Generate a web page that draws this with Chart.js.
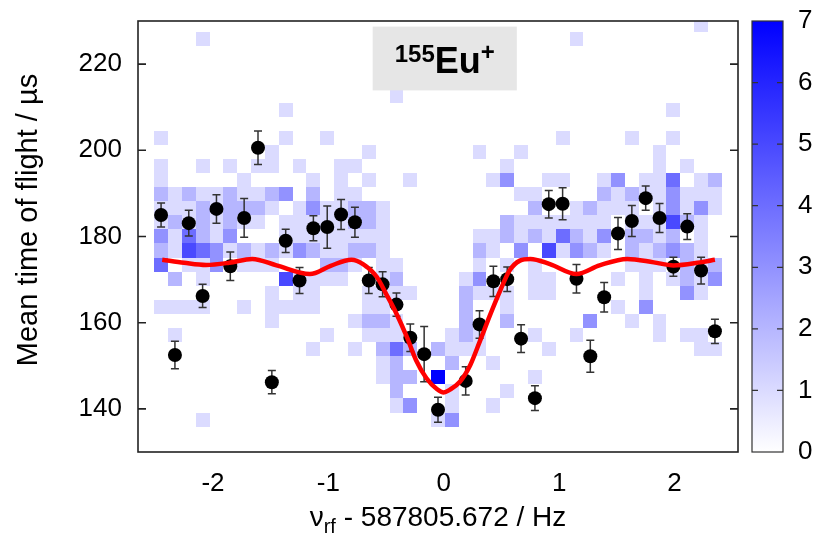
<!DOCTYPE html>
<html>
<head>
<meta charset="utf-8">
<script src="https://cdn.jsdelivr.net/npm/chart.js@4.4.0/dist/chart.umd.min.js"></script>
<style>
  html, body { margin: 0; padding: 0; background: #fff; }
  #wrap { width: 825px; height: 536px; }
</style>
</head>
<body>
<div id="wrap"><canvas id="chartTof"></canvas></div>
<script>
// scan steps (Hz, relative to the fitted centre)
const freq = [-2.45, -2.33, -2.21, -2.09, -1.97, -1.85, -1.73, -1.61, -1.49, -1.37,
              -1.25, -1.13, -1.01, -0.89, -0.77, -0.65, -0.53, -0.41, -0.29, -0.17,
              -0.05, 0.07, 0.19, 0.31, 0.43, 0.55, 0.67, 0.79, 0.91, 1.03,
              1.15, 1.27, 1.39, 1.51, 1.63, 1.75, 1.87, 1.99, 2.11, 2.23, 2.35];

// mean TOF per step (µs) and its error
const tofMean = [185.0, 152.5, 183.1, 166.2, 186.4, 173.1, 184.3, 200.6, 146.2, 179.0,
                 169.8, 181.9, 182.2, 185.1, 183.3, 169.8, 168.9, 164.2, 156.5, 152.7,
                 139.8, null, 146.5, 159.6, 169.6, 170.1, 156.3, 142.5, 187.5, 187.6,
                 170.2, 152.2, 165.9, 180.7, 183.6, 188.9, 184.3, 173.0, 182.3, 172.1, 158.0];
const tofErr = [2.8, 3.2, 3.0, 2.7, 3.3, 3.3, 4.5, 3.9, 2.7, 2.7,
                3.0, 2.9, 4.9, 3.5, 3.5, 3.0, 2.9, 2.7, 3.2, 6.4,
                2.9, null, 3.3, 3.2, 3.5, 2.85, 3.2, 2.85, 3.2, 3.7,
                3.3, 3.7, 3.4, 3.7, 3.6, 2.8, 3.35, 2.2, 3.0, 3.1, 2.8];

// fitted line shape
const fitFreq = [-2.44, -2.25, -2.06, -1.86, -1.66, -1.45, -1.16, -0.98, -0.80, -0.70,
                 -0.58, -0.50, -0.41, -0.32, -0.24, -0.15, -0.06, 0.0, 0.05, 0.14,
                 0.23, 0.31, 0.40, 0.49, 0.57, 0.66, 0.75, 0.92, 1.15, 1.35,
                 1.59, 1.82, 1.99, 2.22, 2.35];
const fitTof = [174.6, 173.9, 173.4, 173.9, 174.8, 173.3, 171.3, 173.2, 174.6, 173.6,
                170.6, 166.7, 162.1, 156.7, 151.3, 147.1, 144.6, 143.8, 144.4, 146.3,
                150.2, 155.5, 161.7, 167.5, 172.1, 174.4, 174.8, 173.6, 171.3, 173.3,
                174.8, 174.0, 173.3, 174.0, 174.6];

// TOF bin edges of the count histogram (bottom to top)
const tofEdges = [135.88, 139.15, 142.42, 145.69, 148.96, 152.23, 155.50, 158.77, 162.04, 165.31,
                  168.58, 171.85, 175.12, 178.39, 181.66, 184.93, 188.20, 191.47, 194.74, 198.01,
                  201.28, 204.55, 207.82, 211.09, 214.36, 217.63, 220.90, 224.17, 227.44, 230.71];

// ion counts per (TOF bin, scan step), top row first; one digit per step
const counts = [
  '0000000000 0000000000 0000000000 0000000001 0',
  '0001000000 0000000000 0000000000 1000000000 0',
  '0000000000 0000000000 0000000000 0000000000 0',
  '0000000000 0000000000 0000000000 0000000000 0',
  '0000000000 0000000000 0000000000 0000000000 0',
  '0000000000 0000000100 0000000000 0000000000 0',
  '0000000001 0000000000 0000000000 0000000100 0',
  '0000000000 0000000000 0000000000 0000000000 0',
  '1000000001 0010000000 0000000001 0000100100 0',
  '0000000010 0000010000 0001001000 0000001000 0',
  '1001010110 1001100000 0000010000 0000001010 0',
  '1000001000 0101010010 0000130011 0013011401 2',
  '2121121123 0201100000 0000001100 0021211311 1',
  '1112122210 1311221000 0000000200 1211101313 1',
  '1212121101 1111221000 0000021111 1110111521 0',
  '3142130001 1111111000 0001121214 2130221201 0',
  '2154312121 3211221000 0002103051 3210212321 0',
  '4011301110 0022101100 0001010100 0000111021 2',
  '0201000005 1111001200 0013000110 0001010121 3',
  '0000000010 1100011110 0021110110 0000010031 0',
  '1111001011 1100011000 0020010000 0001030000 0',
  '0000000010 0000122100 0020020000 0300101000 0',
  '0100000000 0010011100 0121000100 1000001011 0',
  '0000000000 0100102420 2111000010 0000000001 1',
  '0000000000 0000001200 0200100000 0000000000 0',
  '0000000000 0000001220 7000000100 0000000000 0',
  '0000000000 0000000200 0100010000 0000000000 0',
  '0000000000 0000000130 0100100000 0000000000 0',
  '0001000000 0000000000 1300000000 0000000000 0'
];
const countMax = 7;

const xTicks = [-2, -1, 0, 1, 2];
const yTicks = [140, 160, 180, 200, 220];
const cTicks = [0, 1, 2, 3, 4, 5, 6, 7];

const FONT = "'Liberation Sans', Arial, Helvetica, sans-serif";
Chart.defaults.font.family = FONT;

function countColor(n) {
    const v = Math.round(255 * (1 - n / countMax));
    return `rgb(${v},${v},255)`;
}

function drawCounts(chart) {
    const { ctx, chartArea: a, scales: { x, y } } = chart;
    const half = (freq[1] - freq[0]) / 2;
    ctx.save();
    ctx.beginPath();
    ctx.rect(a.left, a.top, a.right - a.left, a.bottom - a.top);
    ctx.clip();
    counts.forEach((row, j) => {
        const cells = row.replace(/ /g, '');
        const k = counts.length - 1 - j;
        const yTop = Math.round(y.getPixelForValue(tofEdges[k + 1]));
        const yBot = Math.round(y.getPixelForValue(tofEdges[k]));
        for (let i = 0; i < cells.length; i++) {
            const n = +cells[i];
            if (!n) continue;
            const x0 = Math.round(x.getPixelForValue(freq[i] - half));
            const x1 = Math.round(x.getPixelForValue(freq[i] + half));
            ctx.fillStyle = countColor(n);
            ctx.fillRect(x0, yTop, x1 - x0, yBot - yTop);
        }
    });
    ctx.restore();
}

function drawErrorBars(chart) {
    const { ctx, scales: { x, y } } = chart;
    ctx.save();
    ctx.strokeStyle = '#333';
    ctx.lineWidth = 1.5;
    freq.forEach((f, i) => {
        if (tofMean[i] == null) return;
        const px = x.getPixelForValue(f);
        const lo = y.getPixelForValue(tofMean[i] - tofErr[i]);
        const hi = y.getPixelForValue(tofMean[i] + tofErr[i]);
        ctx.beginPath();
        ctx.moveTo(px, lo); ctx.lineTo(px, hi);
        ctx.moveTo(px - 4, lo); ctx.lineTo(px + 4, lo);
        ctx.moveTo(px - 4, hi); ctx.lineTo(px + 4, hi);
        ctx.stroke();
    });
    ctx.restore();
}

function drawFrame(chart) {
    const { ctx, chartArea: a, scales: { y } } = chart;
    ctx.save();
    ctx.strokeStyle = '#222';
    ctx.lineWidth = 1.6;
    ctx.strokeRect(a.left, a.top, a.right - a.left, a.bottom - a.top);
    ctx.beginPath();
    yTicks.forEach(v => {
        const py = y.getPixelForValue(v);
        ctx.moveTo(a.left, py); ctx.lineTo(a.left + 8, py);
        ctx.moveTo(a.right, py); ctx.lineTo(a.right - 8, py);
    });
    ctx.stroke();
    ctx.restore();
}

function drawColorBar(chart) {
    const { ctx, chartArea: a, scales: { c } } = chart;
    const left = a.right + 14, right = a.right + 45;
    const top = c.getPixelForValue(countMax), bottom = c.getPixelForValue(0);
    ctx.save();
    const g = ctx.createLinearGradient(0, bottom, 0, top);
    g.addColorStop(0, countColor(0));
    g.addColorStop(1, countColor(countMax));
    ctx.fillStyle = g;
    ctx.fillRect(left, top, right - left, bottom - top);
    ctx.strokeStyle = '#333';
    ctx.lineWidth = 1.2;
    ctx.strokeRect(left, top, right - left, bottom - top);
    ctx.beginPath();
    cTicks.slice(1, -1).forEach(v => {
        const py = c.getPixelForValue(v);
        ctx.moveTo(left, py); ctx.lineTo(left + 6, py);
        ctx.moveTo(right, py); ctx.lineTo(right - 6, py);
    });
    ctx.stroke();
    ctx.restore();
}

function drawIonLabel(chart) {
    const { ctx, scales: { x, y } } = chart;
    const bx0 = x.getPixelForValue(-0.616), bx1 = x.getPixelForValue(0.633);
    const by0 = y.getPixelForValue(228.7), by1 = y.getPixelForValue(213.9);
    ctx.save();
    ctx.fillStyle = '#e6e6e6';
    ctx.fillRect(bx0, by0, bx1 - bx0, by1 - by0);

    const parts = [
        { t: '155', size: 24, dy: -11 },
        { t: 'Eu', size: 36, dy: 0 },
        { t: '+', size: 24, dy: -13 }
    ];
    ctx.fillStyle = '#000';
    ctx.textBaseline = 'alphabetic';
    let total = 0;
    parts.forEach(p => {
        ctx.font = `bold ${p.size}px ${FONT}`;
        p.w = ctx.measureText(p.t).width;
        total += p.w;
    });
    let px = (bx0 + bx1) / 2 - total / 2;
    const base = by0 + 46;
    parts.forEach(p => {
        ctx.font = `bold ${p.size}px ${FONT}`;
        ctx.fillText(p.t, px, base + p.dy);
        px += p.w;
    });
    ctx.restore();
}

function drawAxisTitles(chart) {
    const { ctx, chartArea: a } = chart;
    ctx.save();
    ctx.fillStyle = '#000';

    // y title
    ctx.font = `29px ${FONT}`;
    ctx.textAlign = 'center';
    ctx.textBaseline = 'middle';
    ctx.translate(29, 220);
    ctx.rotate(-Math.PI / 2);
    ctx.fillText('Mean time of flight / µs', 0, 0);
    ctx.setTransform(1, 0, 0, 1, 0, 0);

    // x title with subscript
    const pieces = [
        { t: 'ν', size: 28, dy: 0 },
        { t: 'rf', size: 20, dy: 7 },
        { t: ' - 587805.672 / Hz', size: 28, dy: 0 }
    ];
    ctx.textAlign = 'left';
    ctx.textBaseline = 'alphabetic';
    let w = 0;
    pieces.forEach(p => {
        ctx.font = `${p.size}px ${FONT}`;
        p.w = ctx.measureText(p.t).width;
        w += p.w;
    });
    let px = (a.left + a.right) / 2 - w / 2;
    const base = 526;
    pieces.forEach(p => {
        ctx.font = `${p.size}px ${FONT}`;
        ctx.fillText(p.t, px, base + p.dy);
        px += p.w;
    });
    ctx.restore();
}

const decorPlugin = {
    id: 'tofDecor',
    beforeDatasetsDraw(chart) {
        drawCounts(chart);
        drawErrorBars(chart);
    },
    afterDatasetsDraw(chart) {
        drawFrame(chart);
        drawColorBar(chart);
        drawIonLabel(chart);
        drawAxisTitles(chart);
    }
};

// fixed box sizes so the plot area lands where the frame is drawn
function fixBox(size) {
    return s => {
        if (s.isHorizontal()) s.height = size; else s.width = size;
        s.paddingTop = 0;
        s.paddingBottom = 0;
    };
}

const tickFont = { size: 26 };
const ctx = document.getElementById('chartTof');

new Chart(ctx, {
    type: 'scatter',
    data: {
        datasets: [
            {
                label: 'Fit',
                data: fitFreq.map((f, i) => ({ x: f, y: fitTof[i] })),
                showLine: true,
                borderColor: 'rgb(255, 0, 0)',
                borderWidth: 4.5,
                pointRadius: 0,
                cubicInterpolationMode: 'monotone'
            },
            {
                label: 'Mean TOF',
                data: freq.map((f, i) => ({ x: f, y: tofMean[i] })).filter(p => p.y != null),
                backgroundColor: '#000',
                borderWidth: 0,
                pointRadius: 7
            }
        ]
    },
    options: {
        responsive: true,
        maintainAspectRatio: false,
        animation: false,
        layout: { padding: { top: 21 } },
        plugins: {
            legend: { display: false },
            tooltip: { enabled: false }
        },
        scales: {
            x: {
                type: 'linear',
                min: -2.65,
                max: 2.55,
                afterBuildTicks: s => { s.ticks = xTicks.map(v => ({ value: v })); },
                afterFit: fixBox(84),
                grid: { display: false, drawTicks: false },
                border: { display: false },
                ticks: { color: '#000', font: tickFont, padding: 16, maxRotation: 0 }
            },
            y: {
                type: 'linear',
                position: 'left',
                min: 130,
                max: 230,
                afterBuildTicks: s => { s.ticks = yTicks.map(v => ({ value: v })); },
                afterFit: fixBox(138),
                grid: { display: false, drawTicks: false },
                border: { display: false },
                ticks: { color: '#000', font: tickFont, padding: 16 }
            },
            c: {
                type: 'linear',
                axis: 'y',
                position: 'right',
                min: 0,
                max: countMax,
                afterBuildTicks: s => { s.ticks = cTicks.map(v => ({ value: v })); },
                afterFit: fixBox(87),
                grid: { display: false, drawTicks: false },
                border: { display: false },
                ticks: { color: '#000', font: tickFont, padding: 60 }
            }
        }
    },
    plugins: [decorPlugin]
});
</script>
</body>
</html>
